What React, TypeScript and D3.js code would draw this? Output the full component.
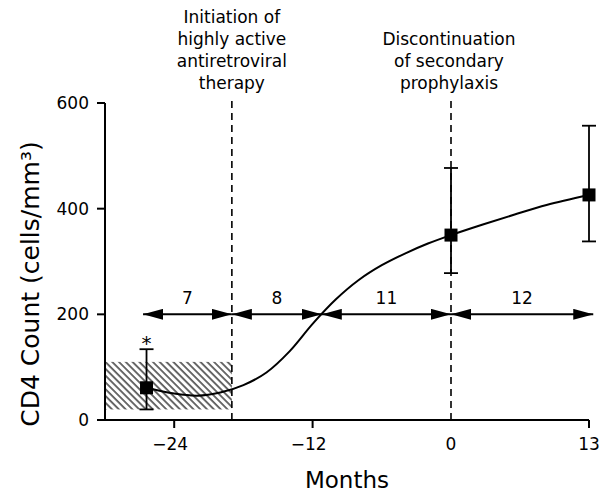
import React from "react";
import * as d3 from "d3";

// months on the x axis, CD4 counts on the y axis
const xTicks = [-24, -12, 0, 13];
const yTicks = [0, 200, 400, 600];

const pointMonths = [-26.4, 0, 13];
const pointMeans = [61, 350, 426];
const pointLow = [20, 278, 338];
const pointHigh = [134, 477, 557];

// fitted curve
const curveMonths = [-26.4, -24, -22, -20, -18, -16, -14, -12, -10, -8, -6, -4, -2, 0, 3, 6, 9, 13];
const curveValues = [61, 50, 46, 52, 66, 90, 130, 182, 228, 265, 293, 315, 334, 350, 370, 389, 407, 426];

const eventMonths = [-19, 0];
const eventLabels = [
    ["Initiation of", "highly active", "antiretroviral", "therapy"],
    ["Discontinuation", "of secondary", "prophylaxis"],
];

const arrowBreaks = [-26.7, -19, -11.2, 0, 13.4];
const arrowCounts = ["7", "8", "11", "12"];
const arrowLevel = 200;

const shadeMonths = [-30, -19];
const shadeRange = [20, 110];

const font = "'DejaVu Sans', sans-serif";

export default function App() {
    const width = 602, height = 493;

    // the axis puts 13 where 12 would be, so the scale is piecewise
    const x = d3.scaleLinear().domain([-30, 0, 13]).range([105, 451, 589]);
    const y = d3.scaleLinear().domain([0, 600]).range([420, 103]);

    const line = d3.line<number>()
        .x((d, i) => x(curveMonths[i]))
        .y(d => y(d))
        .curve(d3.curveCatmullRom.alpha(0.5));

    const sq = 13, cap = 7;

    return (
        <svg width={width} height={height} style={{ position: "absolute", left: 0, top: 0, background: "#fff" }}
            fontFamily={font}>
            <defs>
                <pattern id="hatch" width="4.8" height="10" patternUnits="userSpaceOnUse" patternTransform="rotate(-45)">
                    <line x1="1" y1="0" x2="1" y2="10" stroke="#000" strokeWidth="1.15" />
                </pattern>
                <marker id="head" viewBox="0 0 20 11" refX="20" refY="5.5" markerWidth="20" markerHeight="11"
                    markerUnits="userSpaceOnUse" orient="auto-start-reverse">
                    <path d="M0,0L20,5.5L0,11Z" fill="#000" />
                </marker>
            </defs>

            {/* shaded band */}
            <rect x={x(shadeMonths[0])} y={y(shadeRange[1])}
                width={x(shadeMonths[1]) - x(shadeMonths[0])}
                height={y(shadeRange[0]) - y(shadeRange[1])}
                fill="url(#hatch)" />

            {/* event lines and their labels */}
            {eventMonths.map((m, i) => (
                <g key={"ev" + i}>
                    <line x1={x(m)} x2={x(m)} y1={y(600) - 2} y2={y(0)} stroke="#000" strokeWidth="1.6" strokeDasharray="7,5" />
                    {eventLabels[i].map((t, j) => (
                        <text key={j} x={x(m) - (i === 1 ? 2 : 0)} y={89 - (eventLabels[i].length - 1 - j) * 22}
                            textAnchor="middle" fontSize="17">{t}</text>
                    ))}
                </g>
            ))}

            {/* axes */}
            <line x1={105} x2={105} y1={y(600)} y2={y(0)} stroke="#000" strokeWidth="2" />
            <line x1={97} x2={x(13)} y1={y(0)} y2={y(0)} stroke="#000" strokeWidth="2" />
            {yTicks.map(t => (
                <g key={"yt" + t}>
                    <line x1={97} x2={105} y1={y(t)} y2={y(t)} stroke="#000" strokeWidth="2" />
                    <text x={89} y={y(t)} textAnchor="end" dominantBaseline="central" fontSize="17">{t}</text>
                </g>
            ))}
            {xTicks.map(t => (
                <g key={"xt" + t}>
                    {t !== 0 && <line x1={x(t)} x2={x(t)} y1={y(0)} y2={y(0) + 8} stroke="#000" strokeWidth="2" />}
                    <text x={x(t) - (t < 0 ? 4 : 0)} y={450} textAnchor="middle" fontSize="17">
                        {t < 0 ? "\u2212" + Math.abs(t) : t}
                    </text>
                </g>
            ))}
            <text x={347} y={488} textAnchor="middle" fontSize="23">Months</text>
            <text transform={`translate(39,284) rotate(-90)`} textAnchor="middle" fontSize="25">
                CD4 Count (cells/mm³)
            </text>

            {/* follow-up arrows */}
            {arrowCounts.map((c, i) => {
                const a = x(arrowBreaks[i]), b = x(arrowBreaks[i + 1]);
                return (
                    <g key={"ar" + i}>
                        <line x1={a} x2={b} y1={y(arrowLevel)} y2={y(arrowLevel)} stroke="#000" strokeWidth="2"
                            markerStart="url(#head)" markerEnd="url(#head)" />
                        <text x={(a + b) / 2} y={y(arrowLevel) - 10} textAnchor="middle" fontSize="17">{c}</text>
                    </g>
                );
            })}

            {/* fitted curve */}
            <path d={line(curveValues) || ""} fill="none" stroke="#000" strokeWidth="2" />

            {/* means with error bars */}
            {pointMonths.map((m, i) => (
                <g key={"pt" + i}>
                    <line x1={x(m)} x2={x(m)} y1={y(pointLow[i])} y2={y(pointHigh[i])} stroke="#000" strokeWidth="1.8" />
                    <line x1={x(m) - cap} x2={x(m) + cap} y1={y(pointLow[i])} y2={y(pointLow[i])} stroke="#000" strokeWidth="1.8" />
                    <line x1={x(m) - cap} x2={x(m) + cap} y1={y(pointHigh[i])} y2={y(pointHigh[i])} stroke="#000" strokeWidth="1.8" />
                    <rect x={x(m) - sq / 2} y={y(pointMeans[i]) - sq / 2} width={sq} height={sq} fill="#000" />
                </g>
            ))}
            <text x={x(pointMonths[0])} y={y(pointHigh[0]) + 1} textAnchor="middle" fontSize="20">*</text>
        </svg>
    );
}
